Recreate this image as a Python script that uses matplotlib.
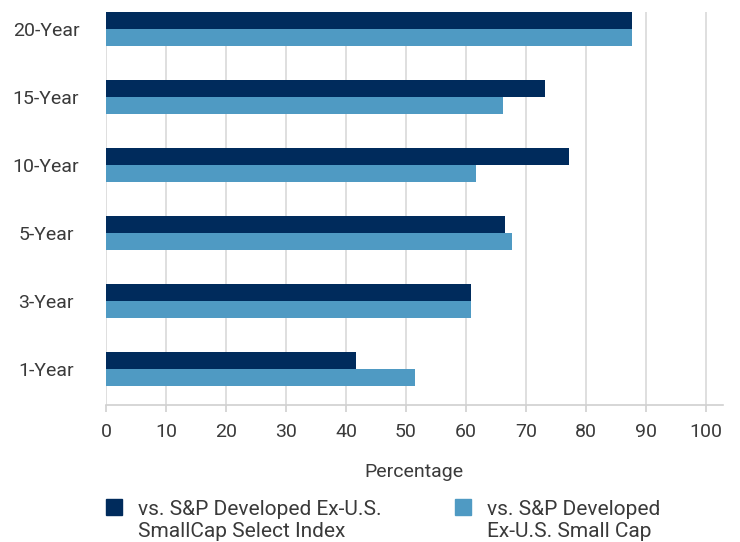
import matplotlib
matplotlib.use('Agg')
import matplotlib.pyplot as plt
from matplotlib.patches import Rectangle
import numpy as np

# data (bottom to top)
periods = ['1-Year', '3-Year', '5-Year', '10-Year', '15-Year', '20-Year']
vs_select = [41.7, 60.8, 66.5, 77.2, 73.2, 87.7]
vs_smallcap = [51.5, 60.8, 67.7, 61.7, 66.2, 87.7]
series_names = ['vs. S&P Developed Ex-U.S.\nSmallCap Select Index',
                'vs. S&P Developed\nEx-U.S. Small Cap']
xticks = [0, 10, 20, 30, 40, 50, 60, 70, 80, 90, 100]

dark = '#002B5C'
light = '#4F9AC3'
txt = '#3a3a3a'

plt.rcParams['font.family'] = ['Roboto', 'DejaVu Sans']
plt.rcParams['font.size'] = 14

fig = plt.figure(figsize=(7.4, 5.42), dpi=100)
ax = fig.add_axes([106 / 740, 1 - 405 / 542, 616.7 / 740, 393 / 542])

y = np.arange(len(periods))
h = 0.25
ax.barh(y + h / 2, vs_select, height=h, color=dark, zorder=3)
ax.barh(y - h / 2, vs_smallcap, height=h, color=light, zorder=3)

ax.set_xlim(0, 102.8)
ax.set_ylim(-0.53, 5.25)
ax.set_xticks(xticks)
ax.set_yticks(y)
ax.set_yticklabels(periods)
ax.grid(axis='x', color='#d9d9d9', linewidth=1.2, zorder=0)
for s in ['top', 'right', 'left']:
    ax.spines[s].set_visible(False)
ax.spines['bottom'].set_color('#d0d0d0')
ax.spines['bottom'].set_linewidth(1.2)
ax.tick_params(axis='y', length=0, pad=30, labelcolor=txt)
ax.tick_params(axis='x', length=5, color='#d0d0d0', width=1.2, pad=8, labelcolor=txt)
# category labels are centred in the left margin
for lab in ax.get_yticklabels():
    lab.set_horizontalalignment('center')
    lab.set_verticalalignment('center_baseline')
    lab.set_x(-(106 - 46) / 616.7)
    lab.set_transform(ax.get_yaxis_transform())
ax.set_xlabel('Percentage', color=txt, labelpad=16)

# legend drawn by hand so the swatch sits on the first line
for x0, col, name in [(106, dark, series_names[0]), (455, light, series_names[1])]:
    fig.add_artist(Rectangle((x0 / 740, 1 - 515 / 542), 16 / 740, 16 / 542,
                             transform=fig.transFigure, color=col))
    fig.text((x0 + 32) / 740, 1 - 500 / 542, name, ha='left', va='top',
             color=txt, fontsize=15, linespacing=1.2)

fig.savefig('out.png', dpi=100)
